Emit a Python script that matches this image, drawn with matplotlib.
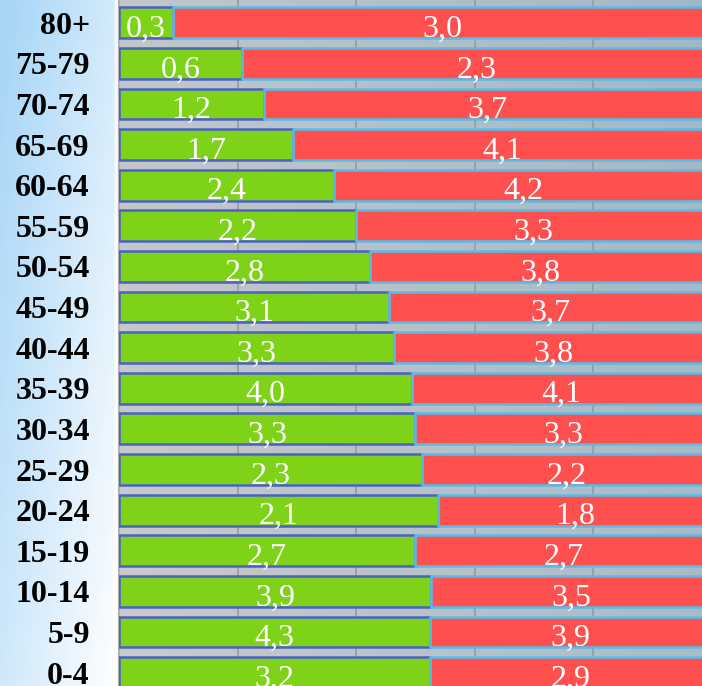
import matplotlib.pyplot as plt
import numpy as np

# возрастные группы (снизу вверх)
ages = ["0-4", "5-9", "10-14", "15-19", "20-24", "25-29", "30-34", "35-39",
        "40-44", "45-49", "50-54", "55-59", "60-64", "65-69", "70-74", "75-79", "80+"]
green_vals = [3.2, 4.3, 3.9, 2.7, 2.1, 2.3, 3.3, 4.0, 3.3, 3.1, 2.8, 2.2, 2.4, 1.7, 1.2, 0.6, 0.3]
red_vals = [2.9, 3.9, 3.5, 2.7, 1.8, 2.2, 3.3, 4.1, 3.8, 3.7, 3.8, 3.3, 4.2, 4.1, 3.7, 2.3, 3.0]

g = np.array(green_vals)
r = np.array(red_vals)
tot = g + r
g_share = g / tot
r_share = r / tot

W, H = 702, 686
fig = plt.figure(figsize=(W / 100, H / 100), dpi=100)

# фон: градиент голубой -> белый -> голубой
bg = fig.add_axes([0, 0, 1, 1], zorder=-10)
xx, yy = np.meshgrid(np.linspace(0, 1, 300), np.linspace(0, 1, 300))
x0 = 115 / W
t = np.where(xx < x0, (x0 - xx) / x0, (xx - x0) / (1 - x0))
t = np.clip(0.55 * t + 0.35 * yy * (xx < x0) + 0.15 * yy, 0, 1)
white = np.array([1.0, 1.0, 1.0])
blue = np.array([0.66, 0.84, 0.97])
img = white[None, None, :] * (1 - t[..., None]) + blue[None, None, :] * t[..., None]
bg.imshow(img, extent=[0, 1, 0, 1], aspect="auto", origin="lower")
bg.set_axis_off()

ax = fig.add_axes([119 / W, 0, (W - 119) / W, 1])
ax.patch.set_facecolor((0.38, 0.38, 0.38, 0.33))

y = np.arange(len(ages))
h = 0.76
ax.barh(y, g_share, height=h, color="#7ed318", edgecolor="#4a62c8", linewidth=1.8, zorder=3)
ax.barh(y, r_share, left=g_share, height=h, color="#ff5050", edgecolor="#55bde8",
        linewidth=1.8, zorder=3)

for i in range(len(ages)):
    ax.text(g_share[i] / 2, y[i] - 0.16, f"{g[i]:.1f}".replace(".", ","), ha="center",
            va="center", color="white", fontsize=23, family="Liberation Serif", zorder=5)
    ax.text(g_share[i] + r_share[i] / 2, y[i] - 0.16, f"{r[i]:.1f}".replace(".", ","),
            ha="center", va="center", color="white", fontsize=23,
            family="Liberation Serif", zorder=5)

ax.set_xticks(np.arange(0, 1.01, 0.2))
ax.set_xlim(0, 583 / 592.5)
ax.set_ylim(-0.33, 16.56)
ax.xaxis.grid(True, color="#9a9a9a", linewidth=1.2, zorder=0)
ax.set_axisbelow(True)
ax.tick_params(axis="x", length=0, labelbottom=False)
ax.set_yticks(y)
ax.set_yticklabels(ages, fontsize=23, fontweight="bold", family="Liberation Serif")
ax.tick_params(axis="y", length=0, pad=21)
for s in ["top", "right", "bottom"]:
    ax.spines[s].set_visible(False)
ax.spines["left"].set_color("#b0b0b0")
ax.spines["left"].set_linewidth(1.5)

fig.savefig("out.png", dpi=100)
